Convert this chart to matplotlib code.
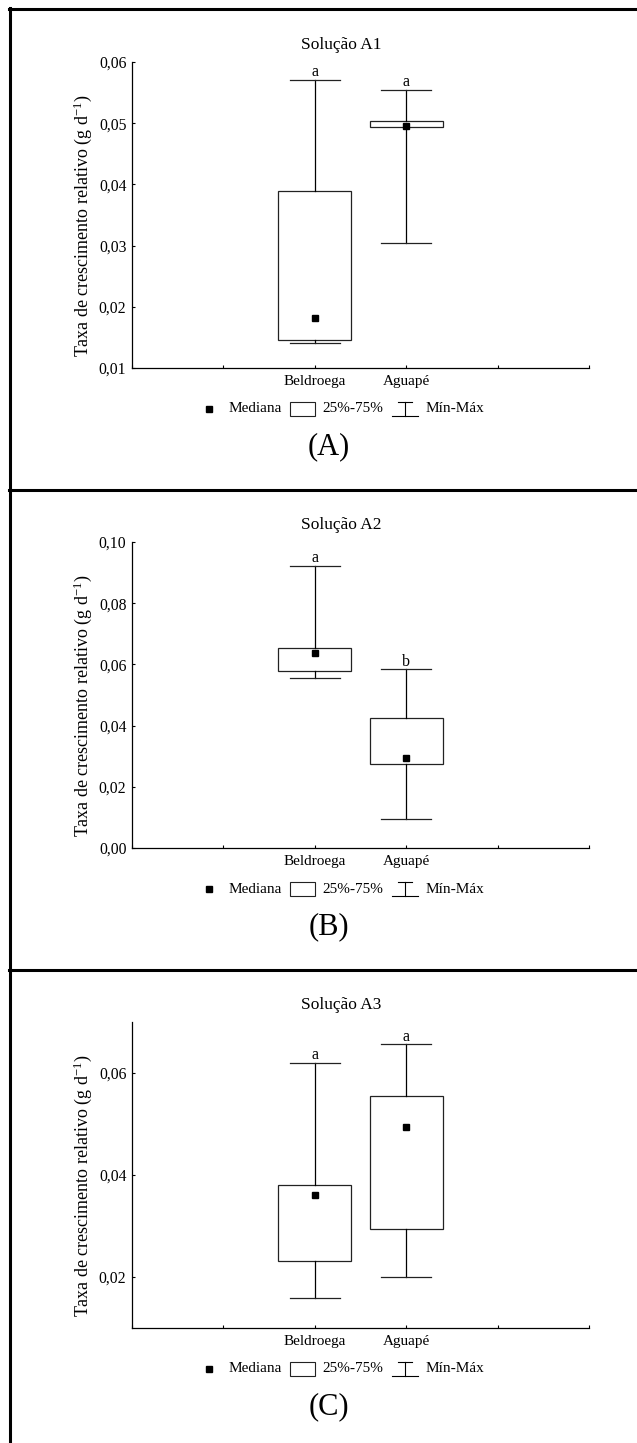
import matplotlib
matplotlib.use("Agg")
import matplotlib.pyplot as plt
from matplotlib.lines import Line2D
from matplotlib.patches import Rectangle
from matplotlib.ticker import FuncFormatter

plt.rcParams["font.family"] = ["Liberation Serif", "DejaVu Serif"]
plt.rcParams["mathtext.fontset"] = "custom"
plt.rcParams["mathtext.rm"] = "Liberation Serif"
plt.rcParams["mathtext.it"] = "Liberation Serif:italic"

# ---- data ---------------------------------------------------------------
species = ["Beldroega", "Aguapé"]
titles = ["Solução A1", "Solução A2", "Solução A3"]
panel_tags = ["(A)", "(B)", "(C)"]
ylabel = "Taxa de crescimento relativo (g d$^{\\mathrm{-1}}$)"

# Solução A1
min_a1 = [0.0141, 0.0305]
q1_a1 = [0.0146, 0.0494]
med_a1 = [0.0181, 0.0496]
q3_a1 = [0.0389, 0.0503]
max_a1 = [0.0571, 0.0555]
letters_a1 = ["a", "a"]
yticks_a1 = [0.01, 0.02, 0.03, 0.04, 0.05, 0.06]

# Solução A2
min_a2 = [0.0556, 0.0096]
q1_a2 = [0.0580, 0.0276]
med_a2 = [0.0637, 0.0293]
q3_a2 = [0.0655, 0.0425]
max_a2 = [0.0922, 0.0585]
letters_a2 = ["a", "b"]
yticks_a2 = [0.00, 0.02, 0.04, 0.06, 0.08, 0.10]

# Solução A3
min_a3 = [0.0158, 0.0200]
q1_a3 = [0.0232, 0.0295]
med_a3 = [0.0361, 0.0495]
q3_a3 = [0.0381, 0.0554]
max_a3 = [0.0620, 0.0656]
letters_a3 = ["a", "a"]
yticks_a3 = [0.02, 0.04, 0.06]

panels = [
    (min_a1, q1_a1, med_a1, q3_a1, max_a1, letters_a1, yticks_a1, (0.01, 0.06)),
    (min_a2, q1_a2, med_a2, q3_a2, max_a2, letters_a2, yticks_a2, (0.00, 0.10)),
    (min_a3, q1_a3, med_a3, q3_a3, max_a3, letters_a3, yticks_a3, (0.01, 0.07)),
]

# ---- figure -------------------------------------------------------------
W, H, DPI = 637, 1443, 100
fig = plt.figure(figsize=(W / DPI, H / DPI), dpi=DPI)
fig.patch.set_facecolor("white")


def fx(x):
    return x / W


def fy(y):
    return 1 - y / H


comma = FuncFormatter(lambda v, p: f"{v:.2f}".replace(".", ","))
positions = [2, 3]
STEP = 480  # vertical distance between stacked panels (px)
edge = "#222222"

for i, (lo, q1, med, q3, hi, letters, yt, ylim) in enumerate(panels):
    off = i * STEP
    ax = fig.add_axes([fx(132), fy(368 + off), (589 - 132) / W, 306 / H])

    stats = [
        dict(whislo=lo[k], q1=q1[k], med=med[k], q3=q3[k], whishi=hi[k], fliers=[])
        for k in range(len(species))
    ]
    ax.bxp(
        stats,
        positions=positions,
        widths=0.8,
        capwidths=0.55,
        showfliers=False,
        patch_artist=True,
        boxprops=dict(facecolor="white", edgecolor=edge, linewidth=0.9),
        whiskerprops=dict(color="black", linewidth=0.9),
        capprops=dict(color=edge, linewidth=0.9),
        medianprops=dict(linewidth=0),
        manage_ticks=False,
    )
    ax.plot(positions, med, "s", color="black", ms=5, zorder=5)

    for p, top, letter in zip(positions, hi, letters):
        ax.annotate(letter, (p, top), xytext=(0, 2.5), textcoords="offset points",
                    ha="center", va="baseline", fontsize=11.5)

    ax.set_xlim(0, 5)
    ax.set_ylim(*ylim)
    ax.set_xticks([0, 1, 2, 3, 4, 5])
    ax.set_xticklabels(["", "", species[0], species[1], "", ""], fontsize=11)
    ax.set_yticks(yt)
    ax.yaxis.set_major_formatter(comma)
    ax.tick_params(axis="y", direction="in", length=2.5, width=0.8, pad=4, labelsize=11.3)
    ax.tick_params(axis="x", direction="in", length=2.5, width=0.8, pad=5)
    for s in ("top", "right"):
        ax.spines[s].set_visible(False)
    for s in ("left", "bottom"):
        ax.spines[s].set_linewidth(0.9)

    fig.text(fx(341), fy(45 + off), titles[i], ha="center", va="center", fontsize=12.5)
    fig.text(fx(83), fy(226 + off), ylabel, rotation=90, ha="center", va="center",
             fontsize=13)
    fig.text(fx(329), fy(447 + off), panel_tags[i], ha="center", va="center", fontsize=22)

    # legend row
    ly = 409 + off
    fig.add_artist(Line2D([fx(209)], [fy(ly)], marker="s", ms=5, color="black",
                          linestyle="none"))
    fig.text(fx(229), fy(ly), "Mediana", ha="left", va="center", fontsize=11)
    fig.add_artist(Rectangle((fx(290), fy(ly + 7)), 25 / W, 14 / H,
                             transform=fig.transFigure, facecolor="white",
                             edgecolor=edge, linewidth=0.8))
    fig.text(fx(322), fy(ly), "25%-75%", ha="left", va="center", fontsize=11)
    fig.add_artist(Line2D([fx(405), fx(405)], [fy(ly - 7), fy(ly + 7)],
                          color="black", linewidth=0.8))
    fig.add_artist(Line2D([fx(398), fx(412)], [fy(ly - 7), fy(ly - 7)],
                          color="black", linewidth=0.8))
    fig.add_artist(Line2D([fx(392), fx(418)], [fy(ly + 7), fy(ly + 7)],
                          color="black", linewidth=0.8))
    fig.text(fx(426), fy(ly), "Mín-Máx", ha="left", va="center", fontsize=11)

# frame lines around the stacked panels
frame_lw = 2.2
fig.add_artist(Line2D([fx(10), fx(10)], [fy(8), 0], color="black", linewidth=frame_lw))
for yline in (9, 490, 970):
    fig.add_artist(Line2D([fx(9), 1], [fy(yline), fy(yline)], color="black",
                          linewidth=frame_lw))

fig.savefig("out.png", dpi=DPI, facecolor="white")
